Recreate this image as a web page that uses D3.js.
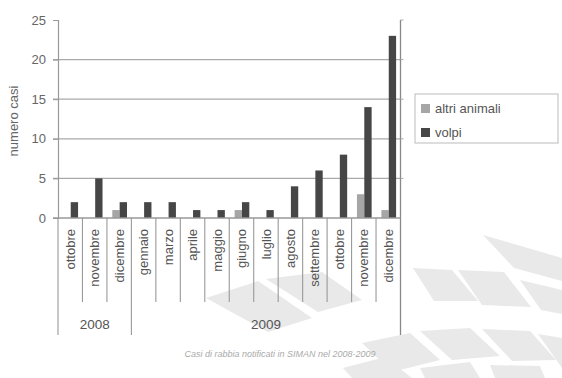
<!DOCTYPE html>
<html><head><meta charset="utf-8">
<script src="https://cdn.jsdelivr.net/npm/d3@7"></script>
<style>html,body{margin:0;padding:0;background:#fff;}svg{display:block;font-family:"Liberation Sans",Arial,sans-serif;}</style>
</head><body><svg id="c" width="562" height="378"></svg>
<script>
const months = ["ottobre","novembre","dicembre","gennaio","marzo","aprile","maggio","giugno","luglio","agosto","settembre","ottobre","novembre","dicembre"];
const years = ["2008","2009"];
const yearSpan = [3, 11];
const altri = [0,0,1,0,0,0,0,1,0,0,0,0,3,1];
const volpi = [2,5,2,2,2,1,1,2,1,4,6,8,14,23];
const seriesNames = ["altri animali","volpi"];
const seriesColors = ["#a6a6a6","#464646"];
const yTicks = [0,5,10,15,20,25];

const svg = d3.select("#c");
const L = 58, R = 400.5, T = 20, B = 218;

// background watermark (decorative)
const wm = [
 [[206,298],[258,281],[312,318],[268,332]],
 [[266,279],[322,272],[362,300],[318,312]],
 [[413,268],[452,270],[478,301],[434,301]],
 [[458,270],[504,272],[531,307],[482,305]],
 [[520,280],[562,290],[562,314],[541,310]],
 [[483,235],[562,258],[562,281],[514,268]],
 [[362,343],[410,333],[440,360],[392,372]],
 [[420,331],[470,328],[500,356],[452,360]],
 [[482,329],[530,331],[556,360],[512,361]],
 [[538,334],[562,338],[562,368]],
 [[343,368],[385,357],[412,378],[352,378]],
 [[420,368],[470,362],[480,378],[425,378]],
 [[490,365],[540,366],[545,378],[495,378]]
];
svg.append("g").selectAll("polygon").data(wm).join("polygon")
  .attr("points", d => d.map(p => p.join(",")).join(" "))
  .attr("fill", "#e9e9e9");

const x = d3.scaleBand().domain(d3.range(months.length)).range([L, R]).padding(0);
const bw = x.bandwidth();
const xs = d3.scaleBand().domain(seriesNames).range([bw*0.22, bw*0.82]).padding(0);
const y = d3.scaleLinear().domain([0, 25]).range([B, T]);

// gridlines
svg.append("g").selectAll("line").data(yTicks.filter(t => t > 0 && t < 25)).join("line")
  .attr("x1", L - 5).attr("x2", R).attr("y1", d => y(d)).attr("y2", d => y(d))
  .attr("stroke", "#aaa").attr("stroke-width", 1.3);

// y axis
const ya = svg.append("g").attr("transform", `translate(${L},0)`)
  .call(d3.axisLeft(y).tickValues(yTicks).tickSize(5).tickPadding(7));
ya.select(".domain").attr("stroke", "#999").attr("stroke-width", 1.2);
ya.selectAll(".tick line").attr("stroke", "#999");
ya.selectAll(".tick text").attr("fill", "#666").attr("font-size", 13).attr("font-family", "Liberation Sans, Arial, sans-serif");

// right line with ticks
svg.append("line").attr("x1", R).attr("x2", R).attr("y1", T).attr("y2", 335).attr("stroke", "#888").attr("stroke-width", 1.3);
svg.append("g").selectAll("line").data(yTicks.filter(t => t > 0)).join("line")
  .attr("x1", R).attr("x2", R + 3).attr("y1", d => y(d)).attr("y2", d => y(d)).attr("stroke", "#aaa");

// bars
const gb = svg.append("g");
months.forEach((m, i) => {
  const vals = [altri[i], volpi[i]];
  vals.forEach((v, j) => {
    if (v <= 0) return;
    gb.append("rect")
      .attr("x", x(i) + xs(seriesNames[j]))
      .attr("width", xs.bandwidth())
      .attr("y", y(v)).attr("height", y(0) - y(v))
      .attr("fill", seriesColors[j]);
  });
});

// x axis line
svg.append("line").attr("x1", L - 5).attr("x2", R).attr("y1", B).attr("y2", B).attr("stroke", "#999").attr("stroke-width", 1.3);

// category separators
const yearBounds = [0];
yearSpan.reduce((a, n) => { yearBounds.push(a + n); return a + n; }, 0);
d3.range(1, months.length).forEach(i => {
  const isYear = yearBounds.includes(i);
  svg.append("line").attr("x1", x(i)).attr("x2", x(i)).attr("y1", B).attr("y2", isYear ? 335 : 302)
    .attr("stroke", "#999").attr("stroke-width", 1.1);
});
svg.append("line").attr("x1", L).attr("x2", L).attr("y1", B).attr("y2", 335).attr("stroke", "#999").attr("stroke-width", 1.1);

// month labels
svg.append("g").selectAll("text").data(months).join("text")
  .attr("transform", (d, i) => `translate(${x(i) + bw/2},229) rotate(-90)`)
  .attr("text-anchor", "end").attr("dy", "0.35em")
  .attr("font-size", 13).attr("fill", "#555").text(d => d);

// year labels
years.forEach((yr, k) => {
  const a = x(yearBounds[k]);
  const b = yearBounds[k+1] >= months.length ? R : x(yearBounds[k+1]);
  svg.append("text").attr("x", (a + b) / 2).attr("y", 329).attr("text-anchor", "middle")
    .attr("font-size", 13.5).attr("fill", "#555").text(yr);
});

// y label
svg.append("text").attr("transform", "translate(18,121) rotate(-90)").attr("text-anchor", "middle")
  .attr("font-size", 13).attr("fill", "#666").text("numero casi");

// legend
svg.append("rect").attr("x", 415).attr("y", 94).attr("width", 143).attr("height", 49)
  .attr("fill", "#fff").attr("stroke", "#bbb");
seriesNames.forEach((s, j) => {
  const yy = 104 + j * 24;
  svg.append("rect").attr("x", 421).attr("y", yy).attr("width", 9).attr("height", 9).attr("fill", seriesColors[j]);
  svg.append("text").attr("x", 435).attr("y", yy + 9).attr("font-size", 13).attr("fill", "#555").text(s);
});

// caption
svg.append("text").attr("x", 280).attr("y", 357).attr("text-anchor", "middle")
  .attr("font-size", 9).attr("font-style", "italic").attr("fill", "#aaa")
  .text("Casi di rabbia notificati in SIMAN nel 2008-2009");
</script></body></html>
